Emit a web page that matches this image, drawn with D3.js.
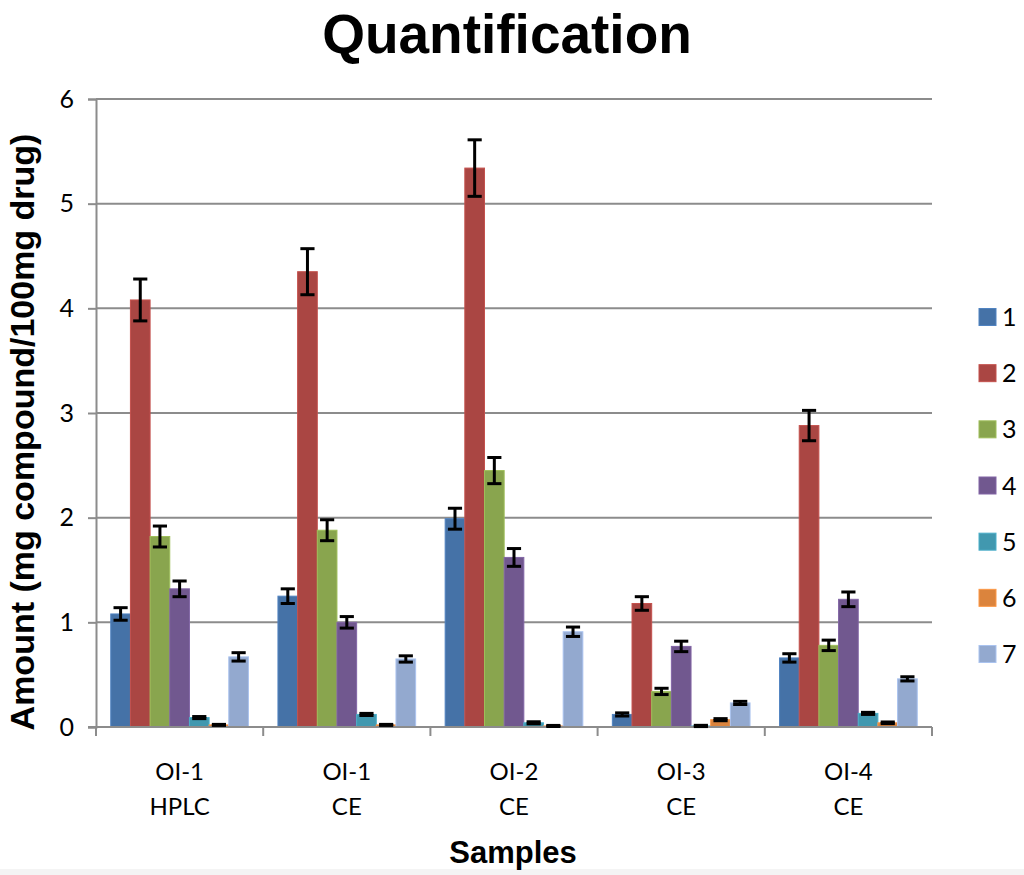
<!DOCTYPE html>
<html>
<head>
<meta charset="utf-8">
<script src="https://cdn.jsdelivr.net/npm/d3@7"></script>
<style>
  html, body { margin: 0; padding: 0; background: #fff; }
  svg { display: block; }
</style>
</head>
<body>
<script>
// ---- data ----
const sampleNames = ["OI-1", "OI-1", "OI-2", "OI-3", "OI-4"];
const methods = ["HPLC", "CE", "CE", "CE", "CE"];
const seriesNames = ["1", "2", "3", "4", "5", "6", "7"];
const seriesColors = ["#4572A7", "#AA4643", "#89A54E", "#71588F", "#4198AF", "#DB843D", "#93A9CF"];
const s1 = [1.08, 1.25, 1.99, 0.12, 0.66];
const s2 = [4.08, 4.35, 5.34, 1.18, 2.88];
const s3 = [1.82, 1.88, 2.45, 0.34, 0.78];
const s4 = [1.32, 1.00, 1.62, 0.77, 1.22];
const s5 = [0.09, 0.12, 0.04, 0.01, 0.13];
const s6 = [0.02, 0.02, 0.01, 0.07, 0.04];
const s7 = [0.67, 0.65, 0.91, 0.23, 0.46];
const e1 = [0.06, 0.07, 0.10, 0.015, 0.04];
const e2 = [0.20, 0.22, 0.27, 0.065, 0.145];
const e3 = [0.10, 0.10, 0.125, 0.03, 0.05];
const e4 = [0.075, 0.055, 0.085, 0.05, 0.07];
const e5 = [0.01, 0.01, 0.01, 0.006, 0.01];
const e6 = [0.005, 0.005, 0.005, 0.01, 0.008];
const e7 = [0.04, 0.03, 0.045, 0.015, 0.02];
const yTicks = [0, 1, 2, 3, 4, 5, 6];
const titleText = "Quantification";
const xTitle = "Samples";
const yTitle = "Amount (mg compound/100mg drug)";

const seriesValues = [s1, s2, s3, s4, s5, s6, s7];
const seriesErrors = [e1, e2, e3, e4, e5, e6, e7];

// ---- layout ----
const W = 1024, H = 875;
const plot = { left: 96, right: 932, top: 99, bottom: 727 };
const labelFont = "Lato, 'Open Sans', sans-serif";
const boldFont = "'Liberation Sans', Arial, sans-serif";
const gridColor = "#8c8c8c";

const svg = d3.select("body").append("svg").attr("width", W).attr("height", H);
svg.append("rect").attr("width", W).attr("height", H).attr("fill", "#fff");
svg.append("rect").attr("x", 0).attr("y", 869).attr("width", W).attr("height", 6).attr("fill", "#f4f4f4");

const groupIdx = d3.range(sampleNames.length);
const x0 = d3.scaleBand().domain(groupIdx).range([plot.left, plot.right]).paddingInner(0).paddingOuter(0);
const gap = 1.5;
const bw = x0.bandwidth();
const padPx = bw * gap / (2 * (seriesNames.length + gap));
const x1 = d3.scaleBand().domain(d3.range(seriesNames.length)).range([padPx, bw - padPx]).padding(0);
const y = d3.scaleLinear().domain([0, 6]).range([plot.bottom, plot.top]);

// gridlines
svg.append("g").selectAll("line").data(yTicks.filter(t => t > 0)).join("line")
  .attr("x1", plot.left).attr("x2", plot.right)
  .attr("y1", d => y(d)).attr("y2", d => y(d))
  .attr("stroke", gridColor).attr("stroke-width", 2);

// y axis
const yAxis = d3.axisLeft(y).tickValues(yTicks).tickSize(8).tickPadding(14).tickFormat(d3.format("d"));
const gy = svg.append("g").attr("transform", `translate(${plot.left},0)`).call(yAxis);
gy.select(".domain").attr("stroke", gridColor).attr("stroke-width", 2);
gy.selectAll(".tick line").attr("stroke", gridColor).attr("stroke-width", 2);
gy.selectAll(".tick text").attr("font-family", labelFont).attr("font-size", 25).attr("fill", "#000");

// bars
const flat = [];
groupIdx.forEach(g => seriesNames.forEach((s, i) => {
  flat.push({ g, i, v: seriesValues[i][g], e: seriesErrors[i][g] });
}));
const barsG = svg.append("g");
barsG.selectAll("rect").data(flat).join("rect")
  .attr("x", d => x0(d.g) + x1(d.i))
  .attr("width", x1.bandwidth())
  .attr("y", d => y(d.v))
  .attr("height", d => y(0) - y(d.v))
  .attr("fill", d => seriesColors[d.i])
  .attr("stroke", d => d3.color(seriesColors[d.i]).brighter(0.4))
  .attr("stroke-width", 1);

// x axis line & ticks
const xAxisG = svg.append("g");
xAxisG.append("line").attr("x1", plot.left - 8).attr("x2", plot.right)
  .attr("y1", y(0)).attr("y2", y(0)).attr("stroke", gridColor).attr("stroke-width", 2);
const bounds = groupIdx.map(g => x0(g)).concat([x0(groupIdx.length - 1) + bw]);
xAxisG.selectAll("line.tk").data(bounds).join("line").attr("class", "tk")
  .attr("x1", d => d).attr("x2", d => d)
  .attr("y1", y(0)).attr("y2", y(0) + 9)
  .attr("stroke", gridColor).attr("stroke-width", 2);

// error bars
const errG = svg.append("g").attr("stroke", "#000").attr("stroke-width", 3);
const capW = x1.bandwidth() * 0.36;
flat.forEach(d => {
  const cx = x0(d.g) + x1(d.i) + x1.bandwidth() / 2;
  const yt = y(d.v + d.e), yb = y(Math.max(0, d.v - d.e));
  errG.append("line").attr("x1", cx).attr("x2", cx).attr("y1", yt).attr("y2", yb);
  errG.append("line").attr("x1", cx - capW).attr("x2", cx + capW).attr("y1", yt).attr("y2", yt);
  errG.append("line").attr("x1", cx - capW).attr("x2", cx + capW).attr("y1", yb).attr("y2", yb);
});

// x labels
const xl = svg.append("g").attr("font-family", labelFont).attr("font-size", 24).attr("text-anchor", "middle").attr("fill", "#000");
groupIdx.forEach(g => {
  const cx = x0(g) + bw / 2;
  xl.append("text").attr("x", cx).attr("y", 780).text(sampleNames[g]);
  xl.append("text").attr("x", cx).attr("y", 815).text(methods[g]);
});

// titles
svg.append("text").attr("x", 507).attr("y", 53).attr("text-anchor", "middle")
  .attr("font-family", boldFont).attr("font-weight", "bold").attr("font-size", 55).text(titleText);
svg.append("text").attr("x", 513).attr("y", 863).attr("text-anchor", "middle")
  .attr("font-family", boldFont).attr("font-weight", "bold").attr("font-size", 31).text(xTitle);
svg.append("text").attr("transform", "translate(34,432) rotate(-90)").attr("text-anchor", "middle")
  .attr("font-family", boldFont).attr("font-weight", "bold").attr("font-size", 34).text(yTitle);

// legend
const lg = svg.append("g");
const legY = d3.scalePoint().domain(seriesNames).range([317, 654]);
seriesNames.forEach((s, i) => {
  lg.append("rect").attr("x", 979).attr("y", legY(s) - 8.5).attr("width", 17).attr("height", 17)
    .attr("fill", seriesColors[i]).attr("stroke", d3.color(seriesColors[i]).brighter(0.4));
  lg.append("text").attr("x", 1002).attr("y", legY(s) + 9).attr("font-family", labelFont)
    .attr("font-size", 25).attr("fill", "#000").text(s);
});
</script>
</body>
</html>
